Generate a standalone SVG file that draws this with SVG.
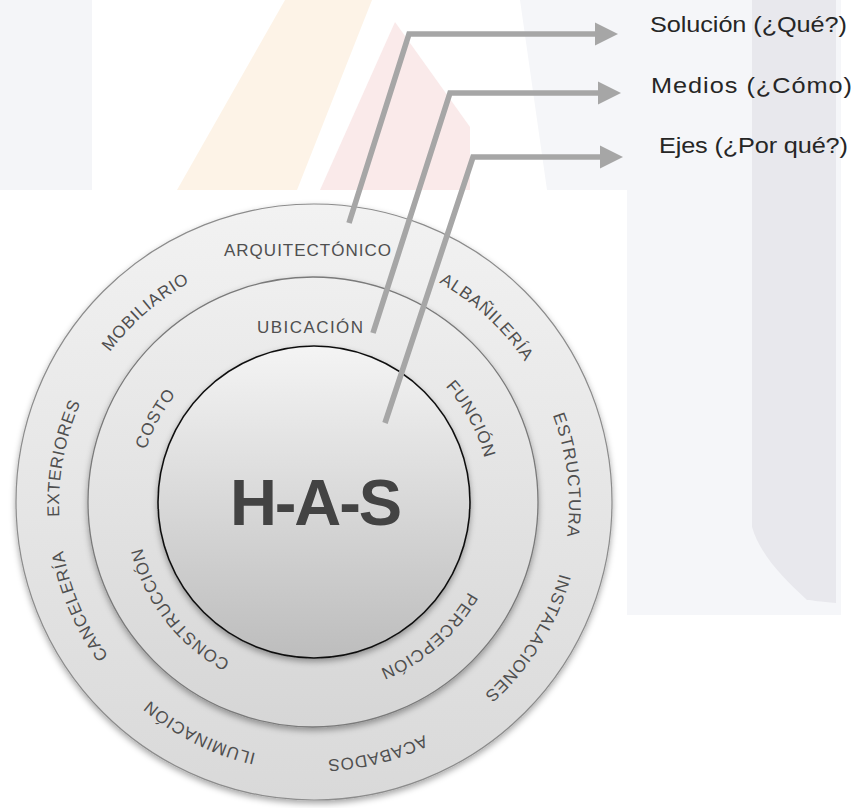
<svg xmlns="http://www.w3.org/2000/svg" width="853" height="808" viewBox="0 0 853 808">
  <defs>
    <linearGradient id="gOuter" x1="0" y1="0" x2="0" y2="1">
      <stop offset="0" stop-color="#f2f2f2"/>
      <stop offset="1" stop-color="#d9d9d9"/>
    </linearGradient>
    <linearGradient id="gMid" x1="0" y1="0" x2="0" y2="1">
      <stop offset="0" stop-color="#efefef"/>
      <stop offset="1" stop-color="#d6d6d6"/>
    </linearGradient>
    <linearGradient id="gCore" x1="0" y1="0" x2="0" y2="1">
      <stop offset="0" stop-color="#f4f4f4"/>
      <stop offset="1" stop-color="#bdbdbd"/>
    </linearGradient>
    <filter id="shadow" x="-10%" y="-10%" width="120%" height="125%">
      <feDropShadow dx="0" dy="3" stdDeviation="3" flood-color="#000" flood-opacity="0.35"/>
    </filter>
    <marker id="arrow" markerUnits="userSpaceOnUse" markerWidth="24" markerHeight="24" viewBox="0 0 24 24" refX="1" refY="12" orient="auto">
      <path d="M0,0.5 L23,12 L0,23.5 Z" fill="#a6a6a6"/>
    </marker>
    <!-- clockwise circles (drawn twice round) used as baselines for the ring labels -->
    <path id="pathOuter" d="M314,250 A255,255 0 1 1 314,760 A255,255 0 1 1 314,250 A255,255 0 1 1 314,760 A255,255 0 1 1 314,250"/>
    <path id="pathMid" d="M314,328 A177,177 0 1 1 314,682 A177,177 0 1 1 314,328 A177,177 0 1 1 314,682 A177,177 0 1 1 314,328"/>
    <style>
      .ring { font-family: "Liberation Sans", Arial, sans-serif; font-size: 17px; fill: #4f4f4f; letter-spacing: 0.8px; }
      .side { font-family: "Liberation Sans", Arial, sans-serif; font-size: 22px; fill: #262626; }
      .core { font-family: "Liberation Sans", Arial, sans-serif; font-size: 65px; font-weight: bold; fill: #434343; }
      .link { fill: none; stroke: #a6a6a6; stroke-width: 5.6; stroke-linejoin: miter; stroke-linecap: butt; }
    </style>
  </defs>

  <!-- faint background shapes -->
  <g id="background">
    <rect x="0" y="0" width="853" height="808" fill="#ffffff"/>
    <rect x="0" y="0" width="92" height="190" fill="#f4f5f8"/>
    <polygon points="177,190 285,0 372,0 297,190" fill="#fdf3e7"/>
    <polygon points="320,190 395,22 470,127 470,190" fill="#faeaea"/>
    <polygon points="520,0 841,0 841,615 627,615 627,190 547,190" fill="#f5f6f9"/>
    <path d="M752,0 H836 V603 C820,602 812,600 807,600 C785,580 760,555 752,527 Z" fill="#e8e8ed"/>
    <rect x="0" y="190" width="627" height="618" fill="#ffffff"/>
  </g>

  <!-- outer ring: solution level -->
  <g id="ring-outer">
    <circle cx="314" cy="502" r="298" fill="url(#gOuter)" stroke="#8c8c8c" stroke-width="1.2" filter="url(#shadow)"/>
    <text class="ring" x="224" y="256" textLength="167" lengthAdjust="spacing" style="letter-spacing:0">ARQUITECTÓNICO</text>
    <text class="ring" text-anchor="middle"><textPath href="#pathOuter" startOffset="1791.3">ALBAÑILERÍA</textPath></text>
    <text class="ring" text-anchor="middle"><textPath href="#pathOuter" startOffset="1972.1">ESTRUCTURA</textPath></text>
    <text class="ring" text-anchor="middle"><textPath href="#pathOuter" startOffset="2143.8">INSTALACIONES</textPath></text>
    <text class="ring" text-anchor="middle"><textPath href="#pathOuter" startOffset="2338.8">ACABADOS</textPath></text>
    <text class="ring" text-anchor="middle"><textPath href="#pathOuter" startOffset="2521.2">ILUMINACIÓN</textPath></text>
    <text class="ring" text-anchor="middle"><textPath href="#pathOuter" startOffset="2699.3">CANCELERÍA</textPath></text>
    <text class="ring" text-anchor="middle"><textPath href="#pathOuter" startOffset="2849.7">EXTERIORES</textPath></text>
    <text class="ring" text-anchor="middle"><textPath href="#pathOuter" startOffset="3020.2">MOBILIARIO</textPath></text>
  </g>

  <!-- middle ring: means level -->
  <g id="ring-middle">
    <circle cx="313" cy="502" r="225" fill="url(#gMid)" stroke="#7a7a7a" stroke-width="1.3" filter="url(#shadow)"/>
    <text class="ring" x="257" y="333" textLength="106" lengthAdjust="spacing" style="letter-spacing:0">UBICACIÓN</text>
    <text class="ring" text-anchor="middle"><textPath href="#pathMid" startOffset="1301.2">FUNCIÓN</textPath></text>
    <text class="ring" text-anchor="middle"><textPath href="#pathMid" startOffset="1540.3">PERCEPCIÓN</textPath></text>
    <text class="ring" text-anchor="middle"><textPath href="#pathMid" startOffset="1828.8">CONSTRUCCIÓN</textPath></text>
    <text class="ring" text-anchor="middle"><textPath href="#pathMid" startOffset="2033.6">COSTO</textPath></text>
  </g>

  <!-- core: axes -->
  <g id="core">
    <circle cx="314" cy="502" r="156" fill="url(#gCore)" stroke="#111111" stroke-width="1.6" filter="url(#shadow)"/>
    <text class="core" x="230" y="525" textLength="172" lengthAdjust="spacing">H-A-S</text>
  </g>

  <!-- leader arrows from each ring to its caption -->
  <g id="connectors">
    <polyline class="link" points="349,223 409,34 596,34" marker-end="url(#arrow)"/>
    <polyline class="link" points="373,333 450,93 599,93" marker-end="url(#arrow)"/>
    <polyline class="link" points="385,423 473,157 601,157" marker-end="url(#arrow)"/>
  </g>

  <!-- captions, widened horizontally to the face's proportions -->
  <g id="caption-solucion">
    <text class="side" transform="translate(650,32) scale(1.15,1)" x="0" y="0" textLength="171.3" lengthAdjust="spacing">Solución (¿Qué?)</text>
  </g>
  <g id="caption-medios">
    <text class="side" transform="translate(651,93) scale(1.15,1)" x="0" y="0" textLength="174.8" lengthAdjust="spacing">Medios (¿Cómo)</text>
  </g>
  <g id="caption-ejes">
    <text class="side" transform="translate(659,153) scale(1.15,1)" x="0" y="0" textLength="164.3" lengthAdjust="spacing">Ejes (¿Por qué?)</text>
  </g>
</svg>
